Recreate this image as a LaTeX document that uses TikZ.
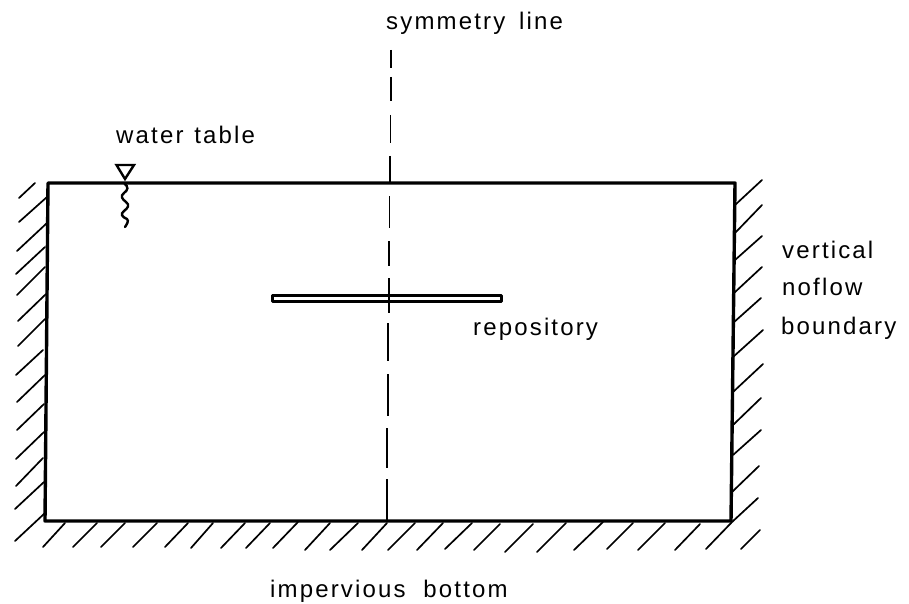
\documentclass[tikz,border=0pt]{standalone}
\usepackage{fontspec}
\setmainfont{Liberation Sans}[LetterSpace=9]
\begin{document}
\begin{tikzpicture}[x=1pt,y=-1pt,
  wall/.style={line width=3.4pt,line cap=round,line join=round},
  hatch/.style={line width=1.7pt,line cap=round},
  symm/.style={line width=1.8pt},
  label/.style={anchor=base west,inner sep=0pt,font=\fontsize{24}{28}\selectfont}]
\useasboundingbox (0,0) rectangle (909,604);
\fill[white] (0,0) rectangle (909,604);
% frame
\coordinate (tl) at (48,183);
\coordinate (tr) at (735,183);
\coordinate (br) at (731,521);
\coordinate (bl) at (45,521);
\draw[wall] (tl) -- (tr) -- (br) -- (bl) -- cycle;
% left hatches
\foreach \a/\b/\c/\d in {19/198/35/183,19/222/47/197,17/251/47/223,16/274/45/247,17/295/45/267,18/321/46/294,18/346/45/319,16/375/43/350,17/402/45/375,17/430/44/404,16/459/44/432,16/486/43/458,15/509/44/482,15/541/45/513}
  \draw[hatch] (\a,\b) -- (\c,\d);
% right hatches
\foreach \a/\b/\c/\d in {735/205/762/180,735/233/762/205,735/260/762/236,734/293/762/267,733/323/761/298,733/357/763/330,733/392/763/364,733/425/761/398,733/455/761/430,732/492/759/466,732/522/758/498,741/549/760/530}
  \draw[hatch] (\a,\b) -- (\c,\d);
% bottom hatches
\foreach \a/\b/\c/\d in {43/547/65/523,73/547/97/523,101/547/125/523,133/547/157/523,165/547/188/523,191/548/213/523,221/548/245/523,246/548/270/523,273/548/298/522,305/550/330/523,330/550/358/523,362/550/387/523,388/550/415/523,417/550/443/523,445/549/472/523,474/550/500/524,505/552/533/524,537/552/566/523,574/550/603/522,607/549/633/523,638/550/665/523,675/550/700/524,706/549/732/522}
  \draw[hatch] (\a,\b) -- (\c,\d);
% symmetry line
\foreach \a/\b/\c/\d in {391/50/391/68,391/77/391/101,390.5/115/390.5/143,390/156/390/183,389.5/196/389.5/228,389/241/389/266,389/278/389/313,388/323/388/361,388/374/388/416,387/428/387/468,386.7/479/386.7/520}
  \draw[symm] (\a,\b) -- (\c,\d);
% repository
\coordinate (r1) at (272,295);
\coordinate (r2) at (501,295);
\coordinate (r3) at (501,301.5);
\coordinate (r4) at (272,301.5);
\draw[line width=3pt,line join=round] (r1) -- (r2) -- (r3) -- (r4) -- cycle;
% water table symbol
\coordinate (w1) at (116.5,165);
\coordinate (w2) at (134,165);
\coordinate (w3) at (125,179);
\draw[line width=2.4pt,line join=miter] (w1) -- (w2) -- (w3) -- cycle;
\draw[line width=2.4pt,line cap=round] (124,183)
  .. controls (129,187) and (128,190) .. (124,193)
  .. controls (120,196) and (122,199) .. (126,202)
  .. controls (130,205) and (128,208) .. (124,211)
  .. controls (120,214) and (122,217) .. (127,219)
  .. controls (129,221) and (127,224) .. (125,227);
% labels
\node[label] (tsym) at (386,30) {symmetry\hspace{5pt} line};
\node[label] (twat) at (116,144) {water\hspace{2pt} table};
\node[label] (tver) at (782,258) {vertical};
\node[label] (tnof) at (782,295) {noflow};
\node[label] (tbou) at (781,334) {boundary};
\node[label] (trep) at (473,335) {repository};
\node[label] (timp) at (270,597) {impervious\hspace{9pt} bottom};
\end{tikzpicture}
\end{document}
